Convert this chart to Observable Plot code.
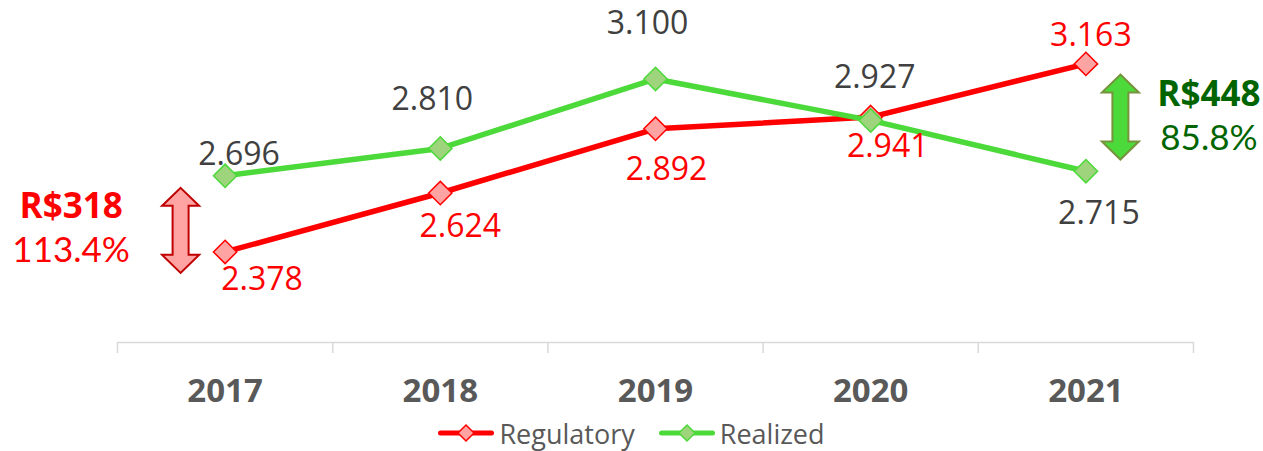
<!DOCTYPE html>
<html>
<head>
<meta charset="utf-8">
<script src="https://cdn.jsdelivr.net/npm/d3@7"></script>
<script src="https://cdn.jsdelivr.net/npm/@observablehq/plot@0.6"></script>
<style>
  html, body { margin: 0; padding: 0; background: #fff; }
  #chart { width: 1263px; }
  #chart svg { display: block; }
  .legend { height: 36px; display: flex; justify-content: center; align-items: center;
            font-family: "Open Sans", sans-serif; font-size: 27px; color: #595959; }
  .legend .item { display: flex; align-items: center; }
  .legend .item + .item { margin-left: 24px; }
  .legend svg { margin-right: 5px; }
</style>
</head>
<body>
<div id="chart"></div>
<script>
// ---- data ----
const years = [2017, 2018, 2019, 2020, 2021];
const regulatory = [2378, 2624, 2892, 2941, 3163];
const realized = [2696, 2810, 3100, 2927, 2715];
const seriesNames = ["Regulatory", "Realized"];

// ---- layout (label offsets in px, not data) ----
const regulatoryLabelOffsets = [[37, 28], [20, 34], [11, 41], [17, 30], [5, -28]];
const realizedLabelOffsets = [[14, -21], [-8, -49], [-8, -55], [4, -43], [13, 43]];

const colors = {
  regLine: "#ff0000", regFill: "#ffa3a3", regDark: "#c00000",
  realLine: "#4cd93a", realFill: "#9dd47c", realArrowStroke: "#77933c",
  realText: "#006400", gray: "#404040", axisText: "#595959", axis: "#d9d9d9"
};

const br = d3.formatLocale({decimal: ",", thousands: ".", grouping: [3], currency: ["R$", ""]});
const fmt = br.format(",d");
const pct = d3.format(".1%");

const regData = years.map((y, i) => ({year: y, value: regulatory[i]}));
const realData = years.map((y, i) => ({year: y, value: realized[i]}));

const first = 0, last = years.length - 1;
const gapFirst = realized[first] - regulatory[first];
const gapLast = regulatory[last] - realized[last];

const boundaries = years.map(y => y - 0.5).concat([years[last] + 0.5]);

function labelMarks(data, offsets, fill) {
  return data.map((d, i) => Plot.text([d], {
    x: "year", y: "value", text: d => fmt(d.value),
    dx: offsets[i][0], dy: offsets[i][1],
    fill, fontSize: 32, fontFamily: "Open Sans", textAnchor: "middle"
  }));
}

function arrowMark(spec) {
  return (index, scales) => {
    const cx = scales.x(spec.x) + spec.dx;
    const cy = (scales.y(spec.v1) + scales.y(spec.v2)) / 2 + spec.dy;
    const L = 85, hh = 18, hw = 18.5, sw = 8;
    const t = cy - L / 2, b = cy + L / 2;
    const p = [
      [cx, t], [cx + hw, t + hh], [cx + sw, t + hh], [cx + sw, b - hh], [cx + hw, b - hh],
      [cx, b], [cx - hw, b - hh], [cx - sw, b - hh], [cx - sw, t + hh], [cx - hw, t + hh]
    ];
    return d3.create("svg:path")
      .attr("d", "M" + p.map(q => q.join(",")).join("L") + "Z")
      .attr("fill", spec.fill).attr("stroke", spec.stroke)
      .attr("stroke-width", 2).attr("stroke-linejoin", "miter")
      .node();
  };
}

const chart = Plot.plot({
  width: 1263,
  height: 415,
  marginLeft: 117,
  marginRight: 70,
  marginTop: 6.6,
  marginBottom: 73,
  x: {type: "linear", domain: [boundaries[0], boundaries[boundaries.length - 1]], axis: null},
  y: {domain: [2000, 3400], axis: null},
  marks: [
    Plot.ruleY([2000], {stroke: colors.axis, strokeWidth: 1.5}),
    Plot.axisX({ticks: boundaries, tickSize: 11, tickFormat: () => "", stroke: colors.axis, strokeWidth: 1.5, label: null}),
    Plot.axisX({ticks: years, tickSize: 0, tickPadding: 36, tickFormat: d => String(d),
      fontSize: 33, fontWeight: "bold", fontFamily: "Open Sans", fill: colors.axisText, label: null}),
    Plot.line(regData, {x: "year", y: "value", stroke: colors.regLine, strokeWidth: 5.5, strokeLinejoin: "round"}),
    Plot.dot(regData, {x: "year", y: "value", symbol: "diamond2", r: 10.5, fill: colors.regFill, stroke: colors.regLine, strokeWidth: 1.5}),
    Plot.line(realData, {x: "year", y: "value", stroke: colors.realLine, strokeWidth: 5.5, strokeLinejoin: "round"}),
    Plot.dot(realData, {x: "year", y: "value", symbol: "diamond2", r: 10.5, fill: colors.realFill, stroke: colors.realLine, strokeWidth: 1.5}),
    ...labelMarks(regData, regulatoryLabelOffsets, colors.regLine),
    ...labelMarks(realData, realizedLabelOffsets, colors.gray),
    arrowMark({x: years[first], dx: -44, v1: regulatory[first], v2: realized[first], dy: 17, fill: colors.regFill, stroke: colors.regDark}),
    arrowMark({x: years[last], dx: 35, v1: regulatory[last], v2: realized[last], dy: 0, fill: colors.realLine, stroke: colors.realArrowStroke}),
    Plot.text([{year: years[first], value: (regulatory[first] + realized[first]) / 2}], {
      x: "year", y: "value", text: () => "R$" + gapFirst, dx: -154, dy: -7.5,
      fill: colors.regLine, fontSize: 35, fontWeight: "bold", fontFamily: "Open Sans", textAnchor: "middle"}),
    Plot.text([{year: years[first], value: (regulatory[first] + realized[first]) / 2}], {
      x: "year", y: "value", text: () => pct(realized[first] / regulatory[first]), dx: -154, dy: 36.5,
      fill: colors.regLine, fontSize: 35, fontWeight: 400, fontFamily: "Lato", textAnchor: "middle"}),
    Plot.text([{year: years[last], value: (regulatory[last] + realized[last]) / 2}], {
      x: "year", y: "value", text: () => "R$" + gapLast, dx: 123, dy: -23,
      fill: colors.realText, fontSize: 35, fontWeight: "bold", fontFamily: "Open Sans", textAnchor: "middle"}),
    Plot.text([{year: years[last], value: (regulatory[last] + realized[last]) / 2}], {
      x: "year", y: "value", text: () => pct(realized[last] / regulatory[last]), dx: 123, dy: 21.5,
      fill: colors.realText, fontSize: 35, fontWeight: 400, fontFamily: "Lato", textAnchor: "middle"})
  ]
});

const root = document.getElementById("chart");
root.appendChild(chart);

// legend
const legend = document.createElement("div");
legend.className = "legend";
const swatches = [
  {name: seriesNames[0], line: colors.regLine, fill: colors.regFill},
  {name: seriesNames[1], line: colors.realLine, fill: colors.realFill}
];
for (const s of swatches) {
  const item = document.createElement("div");
  item.className = "item";
  const sv = d3.create("svg").attr("width", 56).attr("height", 20);
  sv.append("line").attr("x1", 2.5).attr("x2", 53.5).attr("y1", 10).attr("y2", 10)
    .attr("stroke", s.line).attr("stroke-width", 5).attr("stroke-linecap", "round");
  sv.append("path").attr("d", "M28,2L36,10L28,18L20,10Z")
    .attr("fill", s.fill).attr("stroke", s.line).attr("stroke-width", 1.5);
  item.appendChild(sv.node());
  const span = document.createElement("span");
  span.textContent = s.name;
  item.appendChild(span);
  legend.appendChild(item);
}
root.appendChild(legend);
</script>
</body>
</html>
